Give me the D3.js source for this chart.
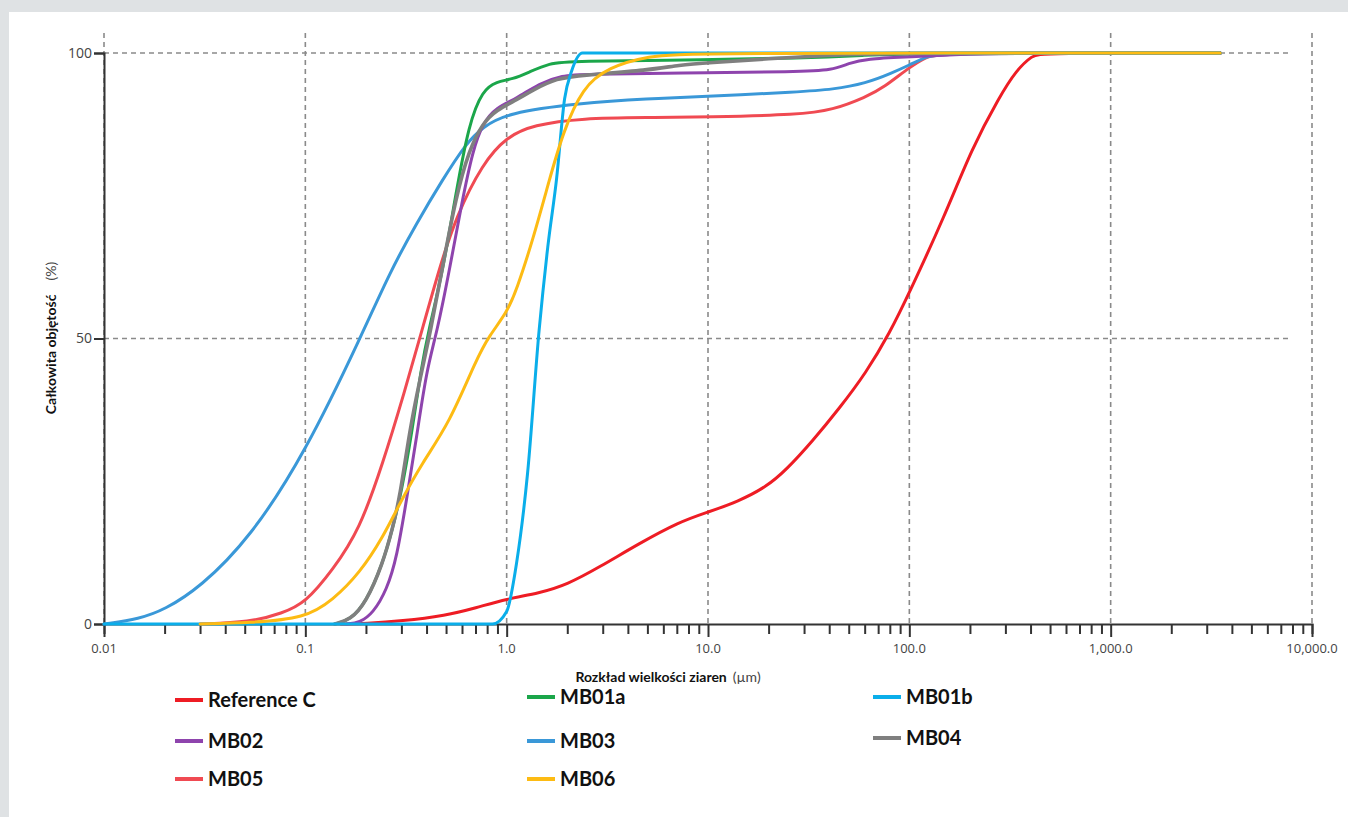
<!DOCTYPE html>
<html>
<head>
<meta charset="utf-8">
<script src="https://cdn.jsdelivr.net/npm/d3@7"></script>
<style>
  html, body { margin: 0; padding: 0; background: #dfe2e4; }
  svg { display: block; }
</style>
</head>
<body>
<svg id="chart" width="1348" height="817"></svg>
<script>
// ---------- DATA ----------
const seriesNames = ["Reference C", "MB01a", "MB01b", "MB02", "MB03", "MB04", "MB05", "MB06"];
const seriesColors = ["#ee1c24", "#1ba64a", "#0aaeea", "#8e44ad", "#3a98d8", "#7f7f7f", "#f04a52", "#fdbb13"];

const refC = [[0.15,0],[0.2,0.1],[0.3,0.5],[0.5,1.5],[0.7,2.8],[1.0,4.4],[1.45,5.4],[2,6.9],[2.9,10],[4.5,14],[7.2,17.9],[10,19.6],[14,21.4],[19.5,24],[24.5,27],[33,32],[45,37.8],[61,44],[80,51],[100,58],[150,71.5],[205,83.4],[280,92.3],[340,97],[410,99.6],[450,100],[3500,100]];
const mb01a = [[0.14,0],[0.167,0.7],[0.2,3.7],[0.243,10.7],[0.27,16.5],[0.3,23],[0.34,34],[0.375,44.5],[0.41,51.5],[0.48,61.5],[0.56,75.5],[0.65,87.7],[0.76,93.5],[0.89,95],[1.07,95.4],[1.3,96.7],[1.63,98.2],[2.05,98.6],[10,98.8],[28.5,99.1],[61,99.6],[100,100],[3500,100]];
const mb01b = [[0.01,0],[0.85,0],[1.0,2.2],[1.12,10.7],[1.27,26.4],[1.45,51.5],[1.6,66],[1.77,78],[1.94,92],[2.1,96.8],[2.38,100],[3500,100]];
const mb02 = [[0.16,0],[0.186,0.2],[0.217,1.9],[0.254,6],[0.285,11.7],[0.319,22],[0.357,32.7],[0.4,44.5],[0.45,51],[0.52,62],[0.6,74],[0.68,83],[0.76,87.7],[0.89,90.5],[1.12,92],[1.45,94.7],[1.9,96.1],[2.38,96.3],[7.2,96.5],[28.5,96.7],[41.5,97],[50,98.2],[61,99],[100,99.3],[190,99.8],[250,100],[3500,100]];
const mb03 = [[0.01,0],[0.015,0.9],[0.02,2.5],[0.03,6.4],[0.053,15],[0.1,30],[0.193,51],[0.262,61.5],[0.357,70.2],[0.48,77.8],[0.63,84.2],[0.76,87],[1.0,89.5],[2.3,91.2],[5,92],[10,92.4],[28.5,93.2],[41.5,93.6],[61,94.7],[82,96.5],[100,97.9],[121,99.3],[140,100],[3500,100]];
const mb04 = [[0.14,0],[0.167,0.7],[0.2,3.7],[0.243,10.7],[0.27,16.5],[0.295,22.2],[0.33,34],[0.37,42.7],[0.42,51.5],[0.48,62.5],[0.56,74.8],[0.65,83],[0.76,87.7],[0.89,90],[1.12,91.8],[1.35,93.5],[1.77,95.6],[2.38,96.1],[5.1,97],[7.2,97.9],[10,98.3],[20,99],[40,99.6],[70,100],[3500,100]];
const mb05 = [[0.03,0],[0.053,0.3],[0.077,1.9],[0.1,3.7],[0.137,9.5],[0.186,16.5],[0.243,28.2],[0.306,39.8],[0.38,51.5],[0.465,62.5],[0.56,71.3],[0.76,80.7],[1.0,85.3],[1.35,87.4],[2.38,88.6],[5,88.7],[10,88.8],[28.5,89.2],[41.5,90],[61,92.3],[75,94],[100,97.5],[121,99.3],[140,100],[3500,100]];
const mb06 = [[0.03,0],[0.053,0.2],[0.1,1],[0.137,4.2],[0.186,8.9],[0.243,15.2],[0.295,21.2],[0.38,28.2],[0.52,35.2],[0.71,46.5],[0.82,50.5],[1.0,54.5],[1.12,58.5],[1.35,67.3],[1.63,77.8],[1.9,86],[2.38,94],[3.2,97.5],[5.1,99.5],[8,100],[3500,100]];

const seriesData = [refC, mb01a, mb01b, mb02, mb03, mb04, mb05, mb06];
const drawOrder = [0, 6, 4, 1, 3, 5, 2, 7];

const xMajorTicks = [0.01, 0.1, 1, 10, 100, 1000, 10000];
const xTickLabels = ["0.01", "0.1", "1.0", "10.0", "100.0", "1,000.0", "10,000.0"];
const yTicks = [0, 50, 100];
const yTickLabels = ["0", "50", "100"];
const xTitle = "Rozkład wielkości ziaren";
const xUnit = "(µm)";
const yTitle = "Całkowita objętość";
const yUnit = "(%)";

// ---------- LAYOUT ----------
const svg = d3.select("#chart");
svg.append("rect").attr("x", 9).attr("y", 12).attr("width", 1348 - 9).attr("height", 817 - 12).attr("fill", "#ffffff");

const x = d3.scaleLog().domain([0.01, 10000]).range([104, 1312]);
const y = d3.scaleLinear().domain([0, 100]).range([624, 53]);

// grid
const grid = svg.append("g");
grid.selectAll("line.v").data(xMajorTicks).enter().append("line")
  .attr("x1", d => x(d)).attr("x2", d => x(d))
  .attr("y1", 33).attr("y2", y(0))
  .attr("stroke", "#8a8a8a").attr("stroke-width", 1.6).attr("stroke-dasharray", "5,4");
grid.selectAll("line.h").data([50, 100]).enter().append("line")
  .attr("x1", x(0.01)).attr("x2", 1288)
  .attr("y1", d => y(d)).attr("y2", d => y(d))
  .attr("stroke", "#8a8a8a").attr("stroke-width", 1.6).attr("stroke-dasharray", "5,4");

// x axis ticks
const minorTicks = [];
for (let e = -2; e < 4; e++) for (let m = 1; m < 10; m++) minorTicks.push(m * Math.pow(10, e));
minorTicks.push(10000);
const xAxis = d3.axisBottom(x).tickValues(minorTicks).tickSize(10).tickFormat("");
const gx = svg.append("g").attr("transform", `translate(0,${y(0)})`).call(xAxis);
gx.select(".domain").attr("stroke", "#333").attr("stroke-width", 2);
gx.selectAll(".tick line").attr("stroke", "#333").attr("stroke-width", 2)
  .attr("y2", d => xMajorTicks.some(t => Math.abs(Math.log10(t) - Math.log10(d)) < 1e-6) ? 13 : 10);

svg.append("g").selectAll("text").data(xMajorTicks).enter().append("text")
  .attr("x", d => x(d)).attr("y", 653)
  .attr("text-anchor", "middle")
  .attr("font-family", "Open Sans, sans-serif").attr("font-size", 13).attr("fill", "#444")
  .text((d, i) => xTickLabels[i]);

// y axis
const yAxis = d3.axisLeft(y).tickValues(yTicks).tickSize(10).tickFormat((d, i) => yTickLabels[i]);
const gy = svg.append("g").attr("transform", `translate(${x(0.01)},0)`).call(yAxis);
gy.select(".domain").attr("stroke", "#333").attr("stroke-width", 2);
gy.selectAll(".tick line").attr("stroke", "#333").attr("stroke-width", 2);
gy.selectAll(".tick text").attr("font-family", "Open Sans, sans-serif").attr("font-size", 14).attr("fill", "#444").attr("x", -12);

// axis titles
const xt = svg.append("text").attr("x", 668).attr("y", 682).attr("text-anchor", "middle")
  .attr("font-family", "Lato, sans-serif").attr("font-size", 14).attr("fill", "#111");
xt.append("tspan").attr("font-weight", "bold").text(xTitle);
xt.append("tspan").attr("dx", 6).attr("fill", "#444").text(xUnit);

const yt = svg.append("text").attr("transform", "translate(56,338) rotate(-90)").attr("text-anchor", "middle")
  .attr("font-family", "Lato, sans-serif").attr("font-size", 14).attr("fill", "#111");
yt.append("tspan").attr("font-weight", "bold").text(yTitle);
yt.append("tspan").attr("dx", 14).attr("fill", "#444").text(yUnit);

// lines
const smoothLine = d3.line().x(d => x(d[0])).y(d => y(d[1])).curve(d3.curveBasis);
const sharpLine = d3.line().x(d => x(d[0])).y(d => y(d[1])).curve(d3.curveMonotoneX);
const lg = svg.append("g");
drawOrder.forEach(i => {
  lg.append("path").datum(seriesData[i])
    .attr("d", i === 2 ? sharpLine : smoothLine).attr("fill", "none")
    .attr("stroke", seriesColors[i])
    .attr("stroke-width", i === 5 ? 3.6 : 3)
    .attr("stroke-linejoin", "round").attr("stroke-linecap", "round");
});

// legend
const legendCols = [175, 527, 873];
const legendRowsY = [[700, 697, 697], [741, 741, 738], [779, 779, 0]];
const legendLayout = [[0, 1, 2], [3, 4, 5], [6, 7, -1]];
const leg = svg.append("g");
legendLayout.forEach((row, r) => row.forEach((si, c) => {
  if (si < 0) return;
  const yy = legendRowsY[r][c];
  leg.append("line").attr("x1", legendCols[c]).attr("x2", legendCols[c] + 28)
    .attr("y1", yy).attr("y2", yy).attr("stroke", seriesColors[si]).attr("stroke-width", 4);
  leg.append("text").attr("x", legendCols[c] + 33).attr("y", yy).attr("dy", "0.35em")
    .attr("font-family", "Lato, sans-serif").attr("font-weight", "bold").attr("font-size", 20)
    .attr("fill", "#111").text(seriesNames[si]);
}));
</script>
</body>
</html>
